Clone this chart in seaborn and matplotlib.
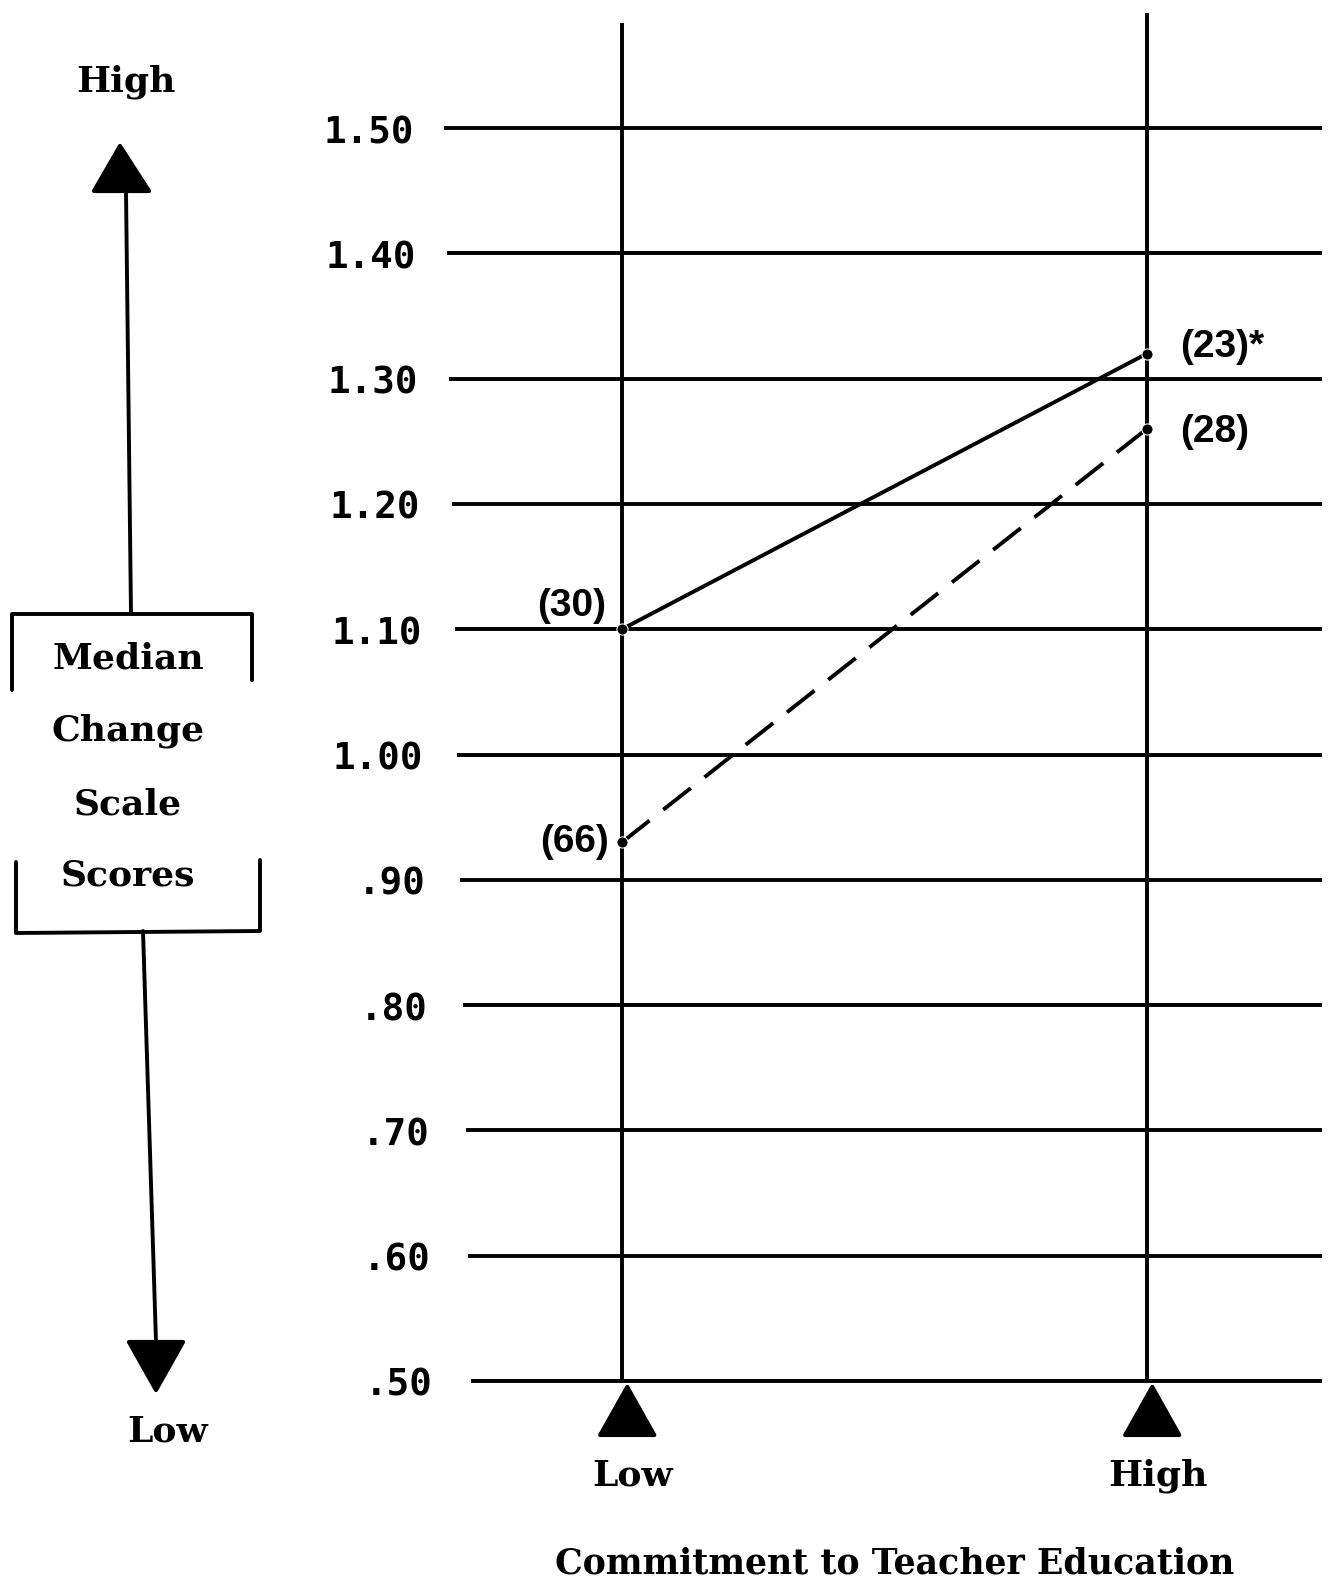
import numpy as np
import pandas as pd
import matplotlib
matplotlib.use("Agg")
import matplotlib.pyplot as plt
import seaborn as sns
from matplotlib.patches import Polygon

# ---------------- data ----------------
groups = ["Low", "High"]                  # Commitment to Teacher Education
solid_scores = [1.10, 1.32]
dashed_scores = [0.93, 1.26]
solid_counts = ["(30)", "(23)*"]
dashed_counts = ["(66)", "(28)"]
ytick_values = [0.50, 0.60, 0.70, 0.80, 0.90, 1.00, 1.10, 1.20, 1.30, 1.40, 1.50]
ytick_labels = [".50", ".60", ".70", ".80", ".90", "1.00", "1.10", "1.20", "1.30", "1.40", "1.50"]
x_title = "Commitment to Teacher Education"
y_box_words = ["Median", "Change", "Scale", "Scores"]

df = pd.DataFrame({
    "pos": list(range(len(groups))) * 2,
    "score": solid_scores + dashed_scores,
    "series": ["solid"] * len(groups) + ["dashed"] * len(groups),
})

# ---------------- figure ----------------
sns.set_theme(style="white")
plt.rcParams["font.family"] = ["DejaVu Serif", "DejaVu Sans"]
W, H = 1339, 1594
fig = plt.figure(figsize=(W / 100, H / 100), dpi=100)
fig.patch.set_facecolor("white")

deco = fig.add_axes([0, 0, 1, 1])
deco.set_xlim(0, W)
deco.set_ylim(H, 0)
deco.axis("off")

ax = fig.add_axes([0, 0, 1, 1])
ax.patch.set_alpha(0)
PX_LOW, PX_HIGH = 622, 1147
upx = PX_HIGH - PX_LOW
Y150, Y050 = 128, 1381
upy = Y050 - Y150
ax.set_xlim(-PX_LOW / upx, (W - PX_LOW) / upx)
ax.set_ylim(0.5 - (H - Y050) / upy, 1.5 + Y150 / upy)
ax.axis("off")

def dx(px):
    return (px - PX_LOW) / upx

LW = 2.8
ink = "black"

# horizontal grid lines + tick labels
for v, lab in zip(ytick_values, ytick_labels):
    left = dx(444 + (1.5 - v) * 27)
    ax.hlines(v, left, dx(1322), color=ink, lw=LW)
    ax.text(dx(414 + (1.5 - v) * 19), v - 5 / upy, lab, ha="right", va="center",
            fontsize=27, fontweight="bold", family="DejaVu Sans Mono", color=ink)

# vertical category lines
ax.vlines(0, 0.5, 1.584, color=ink, lw=LW)
ax.vlines(1, 0.5, 1.592, color=ink, lw=LW)

# category triangles + labels
tri_h = 48 / upy
tri_w = 27 / upx
for i, g in enumerate(groups):
    tip = 0.5 - 6 / upy
    ax.add_patch(Polygon([(i + 0.01, tip), (i + 0.01 - tri_w, tip - tri_h), (i + 0.01 + tri_w, tip - tri_h)],
                         closed=True, color=ink, lw=3, joinstyle="round"))
    ax.text(i + 0.02, 0.5 - 95 / upy, g, ha="center", va="center",
            fontsize=26, fontweight="bold", color=ink)

ax.text(dx(895), 0.5 - (1563 - Y050) / upy, x_title, ha="center", va="center",
        fontsize=25, fontweight="bold", color=ink)

# data lines
sns.lineplot(data=df, x="pos", y="score", style="series",
             dashes={"solid": "", "dashed": (9, 4.5)},
             markers={"solid": "o", "dashed": "o"},
             color=ink, lw=LW, markersize=8, legend=False, ax=ax)

lab_kw = dict(fontsize=28, fontweight="bold", family="Liberation Sans", color=ink,
              textcoords="offset pixels", va="center")
ax.annotate(solid_counts[0], (0, solid_scores[0]), xytext=(-16, 23), ha="right", **lab_kw)
ax.annotate(dashed_counts[0], (0, dashed_scores[0]), xytext=(-13, 0), ha="right", **lab_kw)
ax.annotate(solid_counts[1], (1, solid_scores[1]), xytext=(33, 7), ha="left", **lab_kw)
ax.annotate(dashed_counts[1], (1, dashed_scores[1]), xytext=(33, -3), ha="left", **lab_kw)

# ---------------- left y-axis decoration ----------------
deco.text(126, 82, "High", ha="center", va="center", fontsize=26, fontweight="bold", color=ink)
deco.add_patch(Polygon([(120, 146), (94, 191), (149, 191)], closed=True, color=ink,
                       lw=3, joinstyle="round"))
deco.plot([126, 131], [191, 614], color=ink, lw=LW)
# upper bracket
deco.plot([12, 12, 252, 252], [690, 614, 614, 680], color=ink, lw=LW)
# lower bracket
deco.plot([16, 16, 260, 260], [862, 933, 931, 860], color=ink, lw=LW)
for word, y in zip(y_box_words, [658, 731, 804, 875]):
    deco.text(128, y, word, ha="center", va="center", fontsize=26, fontweight="bold", color=ink)
deco.plot([143, 156], [931, 1342], color=ink, lw=LW)
deco.add_patch(Polygon([(156, 1390), (129, 1342), (183, 1342)], closed=True, color=ink,
                       lw=3, joinstyle="round"))
deco.text(168, 1431, "Low", ha="center", va="center", fontsize=26, fontweight="bold", color=ink)

fig.savefig("out.png", dpi=100, facecolor="white")
